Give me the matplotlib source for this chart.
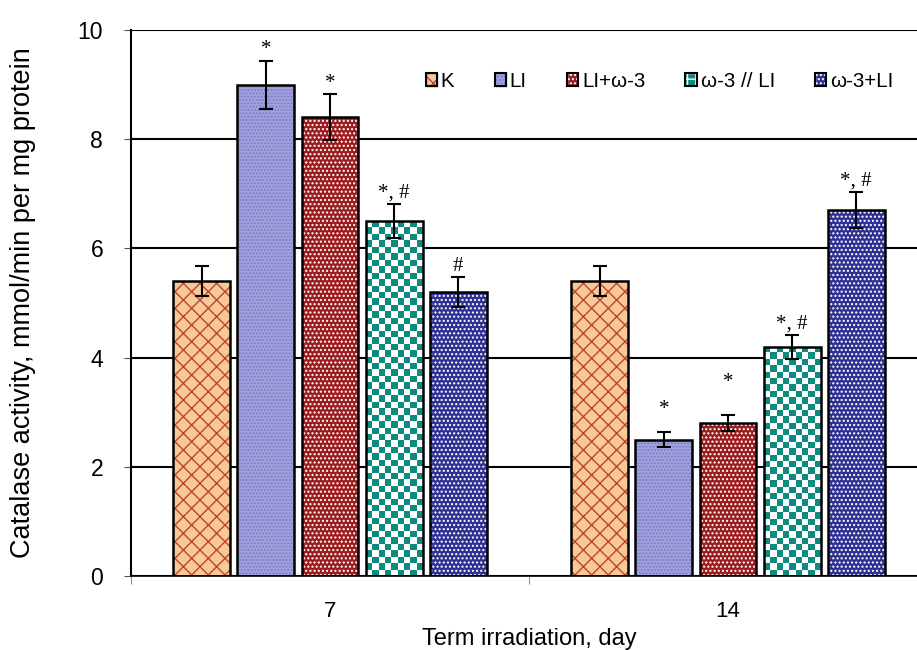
import numpy as np
import matplotlib
matplotlib.use("Agg")
import matplotlib.pyplot as plt
from matplotlib.colors import ListedColormap
from matplotlib.patches import Patch

plt.rcParams['font.family'] = ['Liberation Sans', 'DejaVu Sans']
plt.rcParams['hatch.linewidth'] = 1.0

days = ['7', '14']
groups = ['K', 'LI', 'LI+ω-3', 'ω-3 // LI', 'ω-3+LI']
means = {
    'K': [5.4, 5.4],
    'LI': [9.0, 2.5],
    'LI+ω-3': [8.4, 2.8],
    'ω-3 // LI': [6.5, 4.2],
    'ω-3+LI': [5.2, 6.7],
}
errs = {
    'K': [0.28, 0.28],
    'LI': [0.44, 0.14],
    'LI+ω-3': [0.42, 0.14],
    'ω-3 // LI': [0.31, 0.22],
    'ω-3+LI': [0.27, 0.33],
}
marks = {
    'K': ['', ''],
    'LI': ['*', '*'],
    'LI+ω-3': ['*', '*'],
    'ω-3 // LI': ['*, #', '*, #'],
    'ω-3+LI': ['#', '*, #'],
}
# extra lift of the significance marks, points
mark_pad = {
    'LI': [0, 8],
    'LI+ω-3': [0, 16],
}

# fill colour, hatch colour, hatch
styles = {
    'K': ('#F9C898', '#B8472C', 'xx'),
    'LI': ('#A2A2DE', '#7C7CC8', '.....'),
    'LI+ω-3': ('#9A1C1E', 'white', '....'),
    'ω-3 // LI': ('white', '#0F8A80', None),
    'ω-3+LI': ('#2E3192', 'white', '....'),
}
teal = '#0F8A80'

fig = plt.figure(figsize=(9.17, 6.51), dpi=100)
ax = fig.add_axes([131 / 917, 1 - 576 / 651, 796 / 917, 546 / 651])

x = np.arange(len(days))
step = 0.161
width = 0.143
ax.set_xlim(-0.5, 1.5)
ax.set_ylim(0, 10)

checker_bars = []
for i, g in enumerate(groups):
    xs = x + (i - 2) * step
    face, hcol, hatch = styles[g]
    b1 = ax.bar(xs, means[g], width, color=face, edgecolor=hcol, hatch=hatch,
                linewidth=0, zorder=2)
    ax.bar(xs, means[g], width, fill=False, edgecolor='black',
           linewidth=1.8, zorder=3)
    ax.errorbar(xs, means[g], yerr=errs[g], fmt='none', ecolor='black',
                elinewidth=1.5, capsize=5, capthick=1.5, zorder=4)
    if g == 'ω-3 // LI':
        checker_bars = list(b1.patches)
    pads = mark_pad.get(g, [0, 0])
    for xi, m, e, t, p in zip(xs, means[g], errs[g], marks[g], pads):
        if t:
            ax.annotate(t, (xi, m + e), xytext=(0, 1 + p), textcoords='offset points',
                        ha='center', va='bottom', fontsize=15,
                        family='Liberation Serif', zorder=5)

# checkerboard fill for the ω-3 // LI bars
fig.canvas.draw()
ppu_x = ax.transData.transform((1, 0))[0] - ax.transData.transform((0, 0))[0]
ppu_y = ax.transData.transform((0, 1))[1] - ax.transData.transform((0, 0))[1]
cmap = ListedColormap(['white', teal])
for r in checker_bars:
    x0, w, h = r.get_x(), r.get_width(), r.get_height()
    nx = max(1, int(round(w * ppu_x / 6.4)))
    ny = max(1, int(round(h * ppu_y / 6.4)))
    board = np.add.outer(np.arange(ny), np.arange(nx)) % 2
    im = ax.imshow(board, extent=(x0, x0 + w, 0, h), origin='lower', cmap=cmap,
                   interpolation='nearest', aspect='auto', zorder=2.5)
    im.set_clip_path(r)
ax.set_xlim(-0.5, 1.5)
ax.set_ylim(0, 10)

ax.set_axisbelow(True)
ax.yaxis.grid(True, color='black', linewidth=1.5)
ax.set_yticks([0, 2, 4, 6, 8, 10])
ax.set_xticks(x)
ax.set_xticklabels(days)
ax.set_xticks([-0.5, 0.5, 1.5], minor=True)
ax.tick_params(axis='x', which='major', length=0, labelsize=16, pad=18)
ax.tick_params(axis='x', which='minor', length=6, color='#777777', direction='out')
ax.tick_params(axis='y', length=5, color='#555555', labelsize=16.5, pad=15)
for s in ['top', 'right']:
    ax.spines[s].set_visible(False)
ax.spines['left'].set_linewidth(1.5)
ax.spines['bottom'].set_linewidth(1.2)

ax.set_ylabel('Catalase activity, mmol/min per mg protein', fontsize=19.5, labelpad=30)
ax.set_xlabel('Term irradiation, day', fontsize=17, labelpad=4)

handles = []
for g in groups:
    face, hcol, hatch = styles[g]
    if g == 'ω-3 // LI':
        handles.append(Patch(facecolor=teal, edgecolor='white', hatch='++'))
    else:
        handles.append(Patch(facecolor=face, edgecolor=hcol, hatch=hatch))
handles = [(h, Patch(fill=False, edgecolor='black', linewidth=1.5)) for h in handles]

ax.legend(handles, groups, loc='center', bbox_to_anchor=(0.664, 0.906), ncol=5,
          frameon=False, fontsize=14.8, handlelength=0.54, handleheight=0.54,
          handletextpad=0.2, columnspacing=1.95, borderaxespad=0)

fig.savefig('out.png', dpi=100)
